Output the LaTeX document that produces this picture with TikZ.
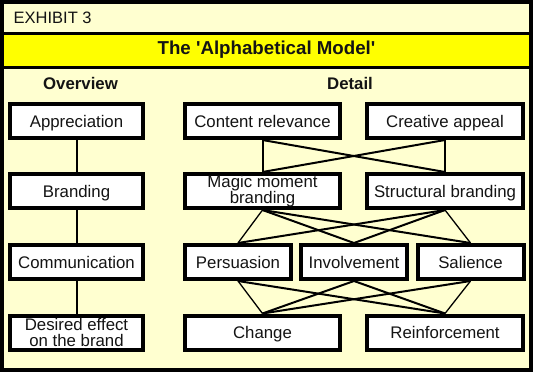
\documentclass[tikz,border=0pt]{standalone}
\usepackage{fontspec}
\setmainfont{Liberation Sans}
\definecolor{cream}{RGB}{255,255,208}
\definecolor{band}{RGB}{255,255,0}
\definecolor{ink}{RGB}{20,20,20}
\begin{document}
\begin{tikzpicture}[x=1pt,y=-1pt,
  box/.style={draw=black, line width=4pt, fill=white, text=ink,
    font=\fontsize{16.8}{15.5}\selectfont, align=center, inner sep=0pt,
    minimum height=34pt},
  single/.style={text height=12.5pt, text depth=0.5pt},
  narrow/.style={minimum width=133pt},
  wide/.style={minimum width=155.5pt},
  small/.style={minimum width=106pt},
  link/.style={line width=2pt},
  thinlink/.style={line width=1.3pt},
  heading/.style={font=\bfseries\fontsize{16.8}{19}\selectfont, text=ink, inner sep=0pt}]
\useasboundingbox (0,0) rectangle (533,384);
\fill[white] (0,0) rectangle (533,384);
\fill[cream] (2,2) rectangle (531,370);
\fill[band] (2,33) rectangle (531,67);
\draw[line width=3pt] (2,33) -- (531,33);
\draw[line width=3pt] (2,67) -- (531,67);
\draw[line width=4pt] (2,2) rectangle (531,370);

\node[anchor=west, inner sep=0pt, text=ink, font=\fontsize{16.5}{19}\selectfont] (exh) at (13.5,18) {EXHIBIT 3};
\node[font=\bfseries\fontsize{18.7}{22}\selectfont, text=ink, inner sep=0pt] (title) at (266.5,50) {The \textquotesingle Alphabetical Model\textquotesingle};
\node[heading] (ov) at (80.5,83) {Overview};
\node[heading] (de) at (350,83) {Detail};

% Overview column
\node[box, single, narrow] (app) at (76.5,121) {Appreciation};
\node[box, single, narrow] (bra) at (76.5,191) {Branding};
\node[box, single, narrow] (com) at (76.5,262) {Communication};
\node[box, narrow] (des) at (76.5,332.5) {Desired effect\\on the brand};

% Detail
\node[box, single, wide] (cr) at (262.5,121) {Content relevance};
\node[box, single, wide] (ca) at (445,121) {Creative appeal};
\node[box, wide] (mm) at (262.5,191) {Magic moment\\branding};
\node[box, single, wide] (sb) at (445,191) {Structural branding};
\node[box, single, small] (per) at (238,262) {Persuasion};
\node[box, single, small] (inv) at (354,262) {Involvement};
\node[box, single, small] (sal) at (470.5,262) {Salience};
\node[box, single, wide] (chg) at (262.5,332.5) {Change};
\node[box, single, wide] (rei) at (445,332.5) {Reinforcement};

% connectors
\draw[link] (app.south) -- (bra.north);
\draw[link] (bra.south) -- (com.north);
\draw[link] (com.south) -- (des.north);

\draw[link] (cr.south) -- (mm.north);
\draw[link] (cr.south) -- (sb.north);
\draw[link] (ca.south) -- (mm.north);
\draw[link] (ca.south) -- (sb.north);

\draw[thinlink] (mm.south) -- (per.north);
\draw[link] (mm.south) -- (inv.north);
\draw[link] (mm.south) -- (sal.north);
\draw[link] (sb.south) -- (per.north);
\draw[link] (sb.south) -- (inv.north);
\draw[thinlink] (sb.south) -- (sal.north);

\draw[thinlink] (per.south) -- (chg.north);
\draw[link] (per.south) -- (rei.north);
\draw[link] (inv.south) -- (chg.north);
\draw[link] (inv.south) -- (rei.north);
\draw[link] (sal.south) -- (chg.north);
\draw[thinlink] (sal.south) -- (rei.north);
\end{tikzpicture}
\end{document}
